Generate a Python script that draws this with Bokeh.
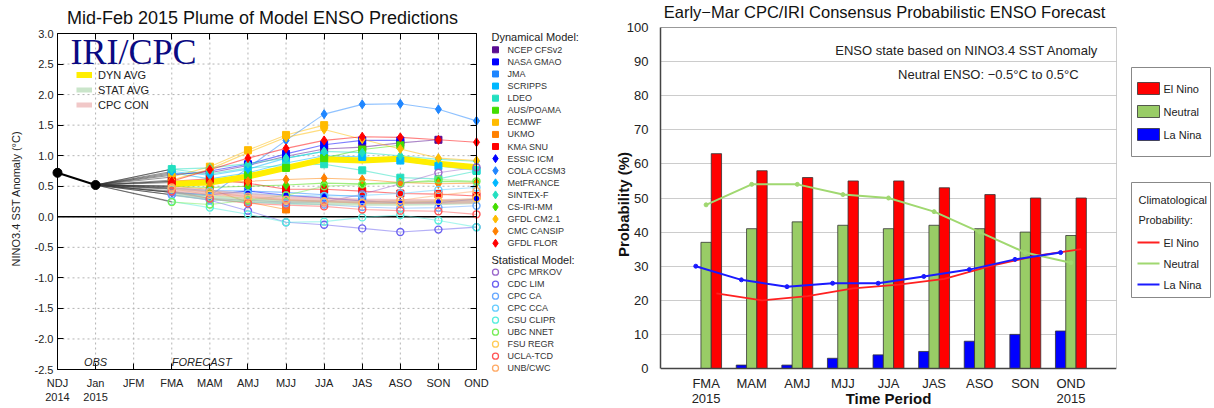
import math
from bokeh.plotting import figure
from bokeh.models import (FixedTicker, LinearAxis, Label, Legend, LegendItem,
                          Range1d, NumeralTickFormatter)
from bokeh.layouts import row
from bokeh.embed import file_html
from bokeh.resources import INLINE
from bokeh.core.properties import value

FONT = "Liberation Sans"

# ---------------- left panel data (NINO3.4 plume) ----------------
seasons_left = ["NDJ", "Jan", "JFM", "FMA", "MAM", "AMJ", "MJJ", "JJA", "JAS", "ASO", "SON", "OND"]
years_left = ["2014", "2015"]
obs_values = [0.72, 0.52]          # NDJ 2014, Jan 2015

# dynamical models (FMA onward)
ncep_cfsv2 = [0.70, 0.72, 0.84, 0.99, 1.11, 1.14, 1.21, 1.26]
nasa_gmao = [0.68, 0.75, 0.86, 1.03, 1.18, 1.25, 1.25]
jma = [0.47, 0.43, 0.42, 0.40, 0.36, 0.33]
scripps = [0.72, 0.62, 0.72, 0.88, 1.00, 0.98, 0.92, 0.83, 0.76]
ldeo = [0.78, 0.70, 0.80, 0.84, 0.86, 0.76, 0.64, 0.62, 0.75]
aus_poama = [0.56, 0.60, 0.68, 0.80, 0.96, 1.10, 1.17]
ecmwf = [0.65, 0.82, 1.09, 1.34, 1.50]
ukmo = [0.50, 0.45, 0.24, 0.12]
kma_snu = [0.58, 0.62, 0.55, 0.45, 0.45, 0.42, 0.38, 0.37, 0.34]
essic_icm = [0.40, 0.36, 0.42, 0.35, 0.31, 0.26, 0.23, 0.23, 0.29]
cola_ccsm3 = [0.40, 0.34, 0.80, 1.25, 1.68, 1.84, 1.85, 1.76, 1.57]
metfrance = [0.74, 0.68, 0.78, 0.96, 1.07]
sintex_f = [0.78, 0.80, 0.87, 0.96, 1.07, 1.05, 1.00, 0.94, 0.91]
cs_iri_mm = [0.50, 0.48, 0.50, 0.52, 0.55, 0.54, 0.56, 0.58, 0.57]
gfdl_cm21 = [0.60, 0.78, 1.05, 1.30, 1.43, 1.27, 1.11, 0.96, 0.92]
cmc_cansip = [0.50, 0.55, 0.58, 0.61, 0.63, 0.61, 0.56, 0.54, 0.55]
gfdl_flor = [0.58, 0.77, 0.96, 1.12, 1.25, 1.31, 1.30, 1.26, 1.22]

# statistical models (FMA onward)
cpc_mrkov = [0.40, 0.30, 0.27, 0.24, 0.24, 0.37, 0.54, 0.72, 0.81]
cdc_lim = [0.36, 0.27, 0.10, -0.09, -0.13, -0.19, -0.25, -0.21, -0.17]
cpc_ca = [0.36, 0.28, 0.24, 0.22, 0.20, 0.16, 0.14, 0.15, 0.18]
cpc_cca = [0.45, 0.42, 0.38, 0.35, 0.34, 0.35, 0.38, 0.44, 0.48]
csu_clipr = [0.25, 0.15, 0.04, -0.09, -0.08, -0.01, 0.03, -0.06, -0.17]
ubc_nnet = [0.24, 0.20, 0.27, 0.35, 0.50, 0.53, 0.55, 0.61, 0.58]
fsu_regr = [0.46, 0.36, 0.30, 0.27, 0.25, 0.22, 0.22, 0.26, 0.30]
ucla_tcd = [0.42, 0.30, 0.22, 0.19, 0.17, 0.12, 0.10, 0.09, 0.04]
unb_cwc = [0.48, 0.40, 0.33, 0.28, 0.25, 0.23, 0.27, 0.35, 0.42]

# averages
dyn_avg = [0.54, 0.56, 0.66, 0.80, 0.94, 0.92, 0.95, 0.87, 0.81]
stat_avg = [0.38, 0.31, 0.27, 0.24, 0.23, 0.22, 0.22, 0.23, 0.25]
cpc_con = [0.45, 0.40, 0.35, 0.30, 0.28, 0.26, 0.25, 0.25, 0.26]

dyn_names = ["NCEP CFSv2", "NASA GMAO", "JMA", "SCRIPPS", "LDEO", "AUS/POAMA", "ECMWF",
             "UKMO", "KMA SNU", "ESSIC ICM", "COLA CCSM3", "MetFRANCE", "SINTEX-F",
             "CS-IRI-MM", "GFDL CM2.1", "CMC CANSIP", "GFDL FLOR"]
dyn_series = [ncep_cfsv2, nasa_gmao, jma, scripps, ldeo, aus_poama, ecmwf, ukmo, kma_snu,
              essic_icm, cola_ccsm3, metfrance, sintex_f, cs_iri_mm, gfdl_cm21, cmc_cansip,
              gfdl_flor]
stat_names = ["CPC MRKOV", "CDC LIM", "CPC CA", "CPC CCA", "CSU CLIPR", "UBC NNET",
              "FSU REGR", "UCLA-TCD", "UNB/CWC"]
stat_series = [cpc_mrkov, cdc_lim, cpc_ca, cpc_cca, csu_clipr, ubc_nnet, fsu_regr,
               ucla_tcd, unb_cwc]

# styles
dyn_colors = ["#5a0d92", "#0000ff", "#1f86ff", "#00b8ff", "#22dfc0", "#44dd00", "#ffbb00",
              "#ff8000", "#ff0000", "#0000ff", "#1f86ff", "#00b8ff", "#22dfc0", "#44dd00",
              "#ffbb00", "#ff8000", "#ff0000"]
dyn_markers = ["square"] * 9 + ["diamond"] * 8
stat_colors = ["#9a66cc", "#6a60f0", "#66a8ff", "#66ccff", "#55eedd", "#77ee55", "#ffcc55",
               "#ff5555", "#ffaa66"]

# ---------------- right panel data (probabilities) ----------------
seasons_right = ["FMA", "MAM", "AMJ", "MJJ", "JJA", "JAS", "ASO", "SON", "OND"]
year_right = "2015"
el_nino = [63, 58, 56, 55, 55, 53, 51, 50, 50]
neutral = [37, 41, 43, 42, 41, 42, 41, 40, 39]
la_nina = [0, 1, 1, 3, 4, 5, 8, 10, 11]
clim_el_nino = [22, 20, 21.2, 23.5, 24.6, 26.3, 30, 33, 35]
clim_neutral = [48, 54, 54, 51, 50, 46, 40, 34, 31]
clim_la_nina = [30, 26, 24, 25, 25, 27, 29, 32, 34]

H = 408

# =============== LEFT FIGURE ===============
# the frame fills the whole figure; the plot box (0..11, -2.5..3.0) sits at
# x=57..476 px, y=33..369 px and is drawn with fixed-location axes
WL = 490
X_LO, X_HI = 0, 11
Y_LO, Y_HI = -2.5, 3.0
PXX = 419 / (X_HI - X_LO)
PXL = 336 / (Y_HI - Y_LO)
pl = figure(width=WL, height=H,
            x_range=Range1d(X_LO - 57 / PXX, X_HI + (WL - 476) / PXX),
            y_range=Range1d(Y_LO - (H - 369) / PXL, Y_HI + 33 / PXL),
            output_backend="svg", toolbar_location=None, title=None,
            min_border=0, min_border_left=0, min_border_right=0,
            min_border_top=0, min_border_bottom=0, outline_line_color=None)

xt = FixedTicker(ticks=list(range(len(seasons_left))))
yticks = [Y_LO + 0.5 * i for i in range(12)]
yt = FixedTicker(ticks=yticks)
overrides = {}
for i, s in enumerate(seasons_left):
    overrides[i] = s + ("\n" + years_left[i] if i < len(years_left) else "")

ax = pl.below[0]
ax.fixed_location = Y_LO
ax.ticker = xt
ax.major_label_overrides = overrides
ax.major_tick_in = 6
ax.major_tick_out = 0
ax.minor_tick_line_color = None
ax.major_label_standoff = 7
ax.major_label_text_font = FONT
ax.major_label_text_font_size = "11px"
ax.major_label_text_color = "#222222"
ay = pl.left[0]
ay.fixed_location = X_LO
ay.bounds = (Y_LO, Y_HI)
ay.ticker = yt
ay.formatter = NumeralTickFormatter(format="0.0")
ay.major_tick_in = 6
ay.major_tick_out = 0
ay.minor_tick_line_color = None
ay.major_label_standoff = 4
ay.major_label_text_font = FONT
ay.major_label_text_font_size = "11px"
ay.major_label_text_color = "#222222"
top_ax = LinearAxis(fixed_location=Y_HI, bounds=(X_LO, X_HI), ticker=xt)
right_ax = LinearAxis(fixed_location=X_HI, bounds=(Y_LO, Y_HI), ticker=yt)
ax.bounds = (X_LO, X_HI)
for a, loc in [(top_ax, "above"), (right_ax, "right")]:
    a.major_label_text_font_size = "0px"
    a.major_label_text_color = None
    a.major_label_standoff = 0
    a.major_tick_in = 6
    a.major_tick_out = 0
    a.minor_tick_line_color = None
    pl.add_layout(a, loc)

pl.grid.visible = False
pl.segment(x0=xt.ticks, y0=[Y_LO] * len(xt.ticks), x1=xt.ticks, y1=[Y_HI] * len(xt.ticks),
           line_color="#b4b4b4", line_dash="2 3", line_width=1)
pl.segment(x0=[X_LO] * len(yticks), y0=yticks, x1=[X_HI] * len(yticks), y1=yticks,
           line_color="#b4b4b4", line_dash="2 3", line_width=1)
pl.segment(x0=[X_LO], y0=[0], x1=[X_HI], y1=[0], line_color="black", line_width=1.6)

fc_x = list(range(3, 12))
all_series = dyn_series + stat_series
pl.segment(x0=[1] * len(all_series), y0=[obs_values[1]] * len(all_series),
           x1=[fc_x[0]] * len(all_series), y1=[s[0] for s in all_series],
           line_color="#333333", line_width=0.7, line_alpha=0.75)

for vals, c in zip(dyn_series + stat_series, dyn_colors + stat_colors):
    pl.line(fc_x[:len(vals)], vals, line_color=c, line_alpha=0.5, line_width=1.1)

r_dyn = pl.line(fc_x, dyn_avg, line_color="#ffee00", line_width=6)
r_stat = pl.line(fc_x, stat_avg, line_color="#9fd09f", line_width=5, line_alpha=0.55)
r_con = pl.line(fc_x, cpc_con, line_color="#e59a9a", line_width=5, line_alpha=0.55)

for vals, c, m in zip(dyn_series, dyn_colors, dyn_markers):
    pl.scatter(fc_x[:len(vals)], vals, marker=m, size=7 if m == "square" else 9,
               fill_color=c, line_color=c)
for vals, c in zip(stat_series, stat_colors):
    pl.scatter(fc_x[:len(vals)], vals, marker="circle", size=7, fill_color=None,
               line_color=c, line_width=1.4)

pl.line([0, 1], obs_values, line_color="black", line_width=2)
pl.scatter([0, 1], obs_values, marker="circle", size=9, color="black")

leg = Legend(items=[LegendItem(label="DYN AVG", renderers=[r_dyn]),
                    LegendItem(label="STAT AVG", renderers=[r_stat]),
                    LegendItem(label="CPC CON", renderers=[r_con])],
             location=(76, 296), padding=0, margin=0, spacing=0,
             glyph_width=16, glyph_height=15, label_height=15, label_standoff=6,
             border_line_color=None, background_fill_alpha=0,
             label_text_font=FONT, label_text_font_size="11px", label_text_color="#222222")
pl.add_layout(leg)

pl.add_layout(Label(x=0.34, y=2.69, text="IRI/CPC", text_font="Liberation Serif",
                    text_font_size="36px", text_color="#0a0a82", text_baseline="middle"))
pl.add_layout(Label(x=1, y=-2.37, text="OBS", text_font=FONT, text_font_style="italic",
                    text_font_size="11px", text_align="center", text_baseline="middle",
                    text_color="#222222"))
pl.add_layout(Label(x=3, y=-2.37, text="FORECAST", text_font=FONT, text_font_style="italic",
                    text_font_size="11px", text_align="left", text_baseline="middle",
                    text_color="#222222"))
pl.add_layout(Label(x=(262 - 57) / PXX, y=Y_HI + 16 / PXL,
                    text="Mid-Feb 2015 Plume of Model ENSO Predictions", text_font=FONT,
                    text_font_size="18px", text_align="center", text_baseline="middle",
                    text_color="#111111"))
pl.add_layout(Label(x=(15 - 57) / PXX, y=Y_HI - (198 - 33) / PXL, angle=math.pi / 2,
                    text="NINO3.4 SST Anomaly (°C)", text_font=FONT,
                    text_font_size="11px", text_align="center", text_baseline="middle",
                    text_color="#222222"))

# =============== LEFT LEGEND FIGURE ===============
WLL = 115
X0L = WL   # page x of this figure
pll = figure(width=WLL, height=H, x_range=Range1d(0, WLL), y_range=Range1d(H, 0),
             x_axis_type=None, y_axis_type=None, output_backend="svg", toolbar_location=None,
             title=None, min_border=0, outline_line_color=None)
pll.grid.visible = False
mx, tx = 495 - X0L, 507 - X0L
dyn_rows = [49.3 + 12.09 * k for k in range(len(dyn_names))]
stat_rows = [271.7 + 12.0 * k for k in range(len(stat_names))]
pll.text(x=[1, 1], y=[36, 259],
         text=["Dynamical Model:", "Statistical Model:"], text_font=value(FONT),
         text_font_size="11px", text_baseline="middle", text_color="#222222")
for m in ("square", "diamond"):
    idx = [i for i, mm in enumerate(dyn_markers) if mm == m]
    pll.scatter([mx] * len(idx), [dyn_rows[i] for i in idx], marker=m,
                size=6 if m == "square" else 8,
                fill_color=[dyn_colors[i] for i in idx], line_color=[dyn_colors[i] for i in idx])
pll.scatter([mx] * len(stat_rows), stat_rows, marker="circle", size=6, fill_color=None,
            line_color=stat_colors, line_width=1.3)
pll.text(x=[tx] * (len(dyn_names) + len(stat_names)), y=dyn_rows + stat_rows,
         text=dyn_names + stat_names, text_font=value(FONT), text_font_size="9px",
         text_baseline="middle", text_color="#333333")

# =============== RIGHT FIGURE ===============
# frame spans the full height; the plot box (0..100 %) sits at y=27..368 px
WR = 513
FWR = 456
PXR = 341 / 100
pr = figure(width=WR, height=H, x_range=Range1d(0, 10),
            y_range=Range1d(-(H - 368) / PXR, 100 + 27 / PXR),
            output_backend="svg", toolbar_location=None, title=None,
            min_border_left=55, min_border_right=WR - 55 - FWR,
            min_border_top=0, min_border_bottom=0, outline_line_color=None)

pos = list(range(1, len(seasons_right) + 1))
bw = 0.226
x_la = [p - bw for p in pos]
x_ne = pos
x_el = [p + bw for p in pos]

bx = pr.below[0]
bx.fixed_location = 0
bx.ticker = FixedTicker(ticks=pos)
r_over = {}
for p, s in zip(pos, seasons_right):
    r_over[p] = s
r_over[pos[0]] = seasons_right[0] + "\n" + year_right
r_over[pos[-1]] = seasons_right[-1] + "\n" + year_right
bx.major_label_overrides = r_over
bx.major_tick_line_color = None
bx.minor_tick_line_color = None
bx.major_label_standoff = 1
bx.major_label_text_line_height = 1.0
bx.major_label_text_font = FONT
bx.major_label_text_font_size = "13px"
bx.major_label_text_color = "#222222"
bx.axis_line_color = "#444444"
bx.axis_line_width = 1.5
by = pr.left[0]
by.bounds = (0, 100)
by.ticker = FixedTicker(ticks=list(range(0, 101, 10)))
by.major_tick_line_color = None
by.minor_tick_line_color = None
by.major_label_standoff = 6
by.major_label_text_font = FONT
by.major_label_text_font_size = "13px"
by.major_label_text_color = "#222222"
by.axis_line_color = "#444444"
by.axis_line_width = 1.5
by.axis_label = "Probability (%)"
by.axis_label_text_font = FONT
by.axis_label_text_font_size = "15px"
by.axis_label_text_font_style = "bold"
by.axis_label_text_color = "#111111"
by.axis_label_standoff = -8
for a, loc in [(LinearAxis(fixed_location=100), "above"),
               (LinearAxis(fixed_location=10, bounds=(0, 100)), "right")]:
    a.ticker = FixedTicker(ticks=[])
    a.major_label_text_font_size = "0px"
    a.major_label_text_color = None
    a.major_tick_line_color = None
    a.minor_tick_line_color = None
    a.axis_line_color = "#999999"
    a.axis_line_width = 1
    pr.add_layout(a, loc)
pr.xgrid.visible = False
pr.ygrid[0].ticker = FixedTicker(ticks=list(range(10, 101, 10)))
pr.ygrid[0].grid_line_color = "#cccccc"
pr.ygrid[0].grid_line_width = 1.2

pr.vbar(x=x_la, top=la_nina, width=bw, fill_color="#0000ff", line_color="#333333",
        line_width=0.8)
pr.vbar(x=x_ne, top=neutral, width=bw, fill_color="#99cc66", line_color="#333333",
        line_width=0.8)
pr.vbar(x=x_el, top=el_nino, width=bw, fill_color="#ff0000", line_color="#333333",
        line_width=0.8)

pr.line(x_el, clim_el_nino, line_color="#ff2020", line_width=1.8)
pr.line(x_ne, clim_neutral, line_color="#a0d870", line_width=2)
pr.scatter(x_ne, clim_neutral, size=4, color="#a0d870")
pr.line(x_la, clim_la_nina, line_color="#1a1aff", line_width=2)
pr.scatter(x_la, clim_la_nina, size=4, color="#1a1aff")

pr.add_layout(Label(x=9.6, y=93.2, text="ENSO state based on NINO3.4 SST Anomaly",
                    text_font=FONT, text_font_size="13px", text_align="right",
                    text_baseline="middle", text_color="#222222"))
pr.add_layout(Label(x=7.19, y=86.1, text="Neutral ENSO: −0.5°C to 0.5°C",
                    text_font=FONT, text_font_size="13px", text_align="center",
                    text_baseline="middle", text_color="#222222"))
pr.add_layout(Label(x=(884 - 660) / (FWR / 10), y=100 + (27 - 11) / PXR,
                    text="Early−Mar CPC/IRI Consensus Probabilistic ENSO Forecast",
                    text_font=FONT, text_font_size="16.5px", text_align="center",
                    text_baseline="middle", text_color="#111111"))
pr.add_layout(Label(x=5.0, y=-(398 - 368) / PXR, text="Time Period", text_font=FONT,
                    text_font_style="bold", text_font_size="15px", text_align="center",
                    text_baseline="middle", text_color="#111111"))

# =============== RIGHT LEGEND FIGURE ===============
WRL = 1214 - WL - WLL - WR
prl = figure(width=WRL, height=H, x_range=Range1d(0, WRL), y_range=Range1d(H, 0),
             x_axis_type=None, y_axis_type=None, output_backend="svg", toolbar_location=None,
             title=None, min_border=0, outline_line_color=None)
prl.grid.visible = False
prl.rect(x=[52.5, 52.5], y=[111.5, 239.5], width=[79, 79], height=[89, 115],
         fill_color=None, line_color="#888888", line_width=1)
cat_names = ["El Nino", "Neutral", "La Nina"]
cat_colors = ["#ff0000", "#99cc66", "#0000ff"]
box_rows = [88, 111, 134]
prl.rect(x=[30] * 3, y=box_rows, width=22, height=12, fill_color=cat_colors,
         line_color="#333333", line_width=0.8)
clim_rows = [242, 263, 284]
clim_colors = ["#ff2020", "#a0d870", "#1a1aff"]
prl.segment(x0=[19] * 3, y0=clim_rows, x1=[41] * 3, y1=clim_rows, line_color=clim_colors,
            line_width=2)
prl.text(x=[45] * 6, y=box_rows + clim_rows, text=cat_names + cat_names,
         text_font=value(FONT), text_font_size="11px", text_baseline="middle",
         text_color="#222222")
prl.text(x=[20, 20], y=[199, 219], text=["Climatological", "Probability:"],
         text_font=value(FONT), text_font_size="11px", text_baseline="middle",
         text_color="#222222")

layout = row(pl, pll, pr, prl)
open("out.html", "w").write(file_html(layout, INLINE))
